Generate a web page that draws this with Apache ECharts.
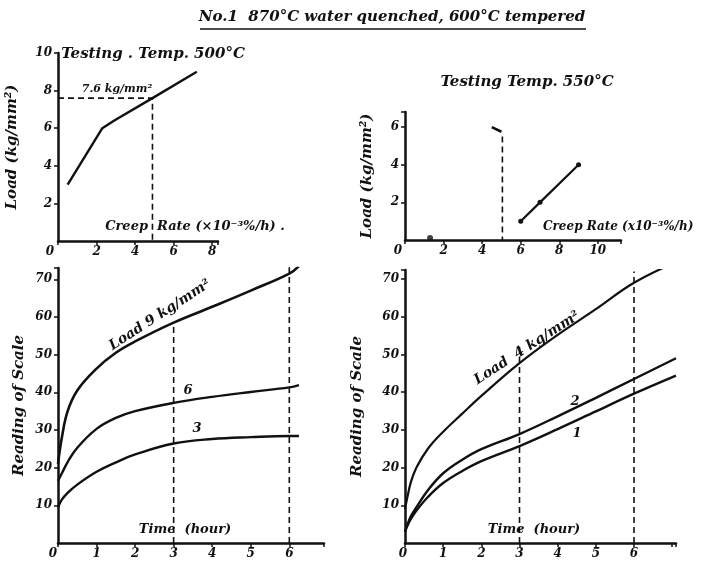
<!DOCTYPE html>
<html>
<head>
<meta charset="utf-8">
<script src="https://cdn.jsdelivr.net/npm/echarts@6/dist/echarts.min.js"></script>
<style>html,body{margin:0;padding:0;background:#fff;}#c{width:703px;height:561px;}</style>
</head>
<body>
<div id="c"></div>
<script>
// ---- Top-left: Testing Temp. 500°C (creep rate vs load)
const tlRate = [0.5, 2.3, 2.9, 4.9, 7.2];
const tlLoad = [3, 6, 6.4, 7.6, 9];
const tlGuideRate = [0, 4.9, 4.9];
const tlGuideLoad = [7.6, 7.6, 0];

// ---- Top-right: Testing Temp. 550°C
const trRate = [6, 7, 9];
const trLoad = [1, 2, 4];
const trLoad6Rate = [4.5, 5.0];
const trLoad6Load = [6.0, 5.75];
const trGuideRate = [5.05, 5.05];
const trGuideLoad = [5.5, 0];
const trDotRate = [1.3];
const trDotLoad = [0.1];

// ---- Bottom-left: reading of scale vs time (500°C)
const blTime = [0, 0.1, 0.25, 0.5, 1, 1.5, 2, 3, 4, 5, 6, 6.25];
const blLoad9 = [21, 28, 35, 40.5, 46.3, 50.5, 53.5, 58.5, 62.7, 67, 71.5, 73.5];
const blLoad6 = [16.5, 18.5, 21.5, 25.3, 30.3, 33.2, 35.0, 37.2, 38.8, 40.1, 41.3, 41.9];
const blLoad3 = [9.5, 11.5, 13.3, 15.5, 18.9, 21.4, 23.5, 26.4, 27.6, 28.1, 28.4, 28.4];
const blGuide3 = [0, 58.5];
const blGuide6 = [0, 74];

// ---- Bottom-right: reading of scale vs time (550°C)
const brTime = [0, 0.05, 0.15, 0.3, 0.6, 1, 1.5, 2, 3, 4, 5, 6, 7.1];
const brLoad4 = [9, 11.5, 16, 20, 25, 29.5, 34.3, 39, 47.7, 55.2, 62, 69, 74.5];
const brLoad2 = [3, 4.5, 7, 9.5, 14, 18.5, 22.1, 24.9, 28.9, 33.6, 38.5, 43.5, 49];
const brLoad1 = [3, 4.3, 6.3, 8.6, 12.2, 15.9, 19.1, 21.7, 25.7, 30.2, 34.9, 39.6, 44.4];
const brGuide3 = [0, 52];
const brGuide6 = [0, 72];

const pairs = (xs, ys) => xs.map((x, i) => [x, ys[i]]);
const FONT = 'DejaVu Serif';
const ink = '#111';

function xAx(gi, max, interval, lastLabel, zeroShift) {
  return {
    type: 'value', gridIndex: gi, min: 0, max: max, interval: interval,
    axisLine: { show: true, onZero: false, lineStyle: { color: ink, width: 2.5 } },
    axisTick: { show: true, length: 4, lineStyle: { color: ink, width: 1.5 } },
    splitLine: { show: false },
    axisLabel: {
      margin: 5, color: ink, fontFamily: FONT, fontStyle: 'italic', fontWeight: 'bold', fontSize: 12,
      formatter: function (v) {
        if (v === 0) return '{z|0}';
        if (v > lastLabel + 1e-6) return '';
        return Math.abs(v / interval - Math.round(v / interval)) < 1e-6 ? String(v) : '';
      },
      rich: { z: { padding: [0, zeroShift, 0, 0], color: ink, fontFamily: FONT, fontStyle: 'italic', fontWeight: 'bold', fontSize: 12 } }
    }
  };
}
function yAx(gi, max, interval, name, gap) {
  return {
    type: 'value', gridIndex: gi, min: 0, max: max, interval: interval,
    name: name, nameLocation: 'middle', nameGap: gap, nameRotate: 90,
    nameTextStyle: { color: ink, fontFamily: FONT, fontStyle: 'italic', fontWeight: 'bold', fontSize: 15 },
    axisLine: { show: true, onZero: false, lineStyle: { color: ink, width: 2.5 } },
    axisTick: { show: true, length: 4, lineStyle: { color: ink, width: 1.5 } },
    splitLine: { show: false },
    axisLabel: {
      margin: 6, color: ink, fontFamily: FONT, fontStyle: 'italic', fontWeight: 'bold', fontSize: 12,
      showMinLabel: false,
      formatter: function (v) {
        return Math.abs(v / interval - Math.round(v / interval)) < 1e-6 ? String(v) : '';
      }
    }
  };
}
function curve(gi, data, smooth, width) {
  return {
    type: 'line', xAxisIndex: gi, yAxisIndex: gi, data: data,
    smooth: smooth, showSymbol: false, symbol: 'none',
    lineStyle: { color: ink, width: width || 2.4 }, animation: false
  };
}
function dashed(gi, data) {
  return {
    type: 'line', xAxisIndex: gi, yAxisIndex: gi, data: data, symbol: 'none',
    lineStyle: { color: ink, width: 1.6, type: [6, 4] }, animation: false
  };
}
function txt(x, y, s, size, opts, align) {
  return Object.assign({
    type: 'text', x: x, y: y,
    style: { text: s, fill: ink, font: 'italic bold ' + size + 'px "' + FONT + '"', textAlign: align || 'center', textVerticalAlign: 'middle' }
  }, opts || {});
}

const chart = echarts.init(document.getElementById('c'), null, { renderer: 'canvas' });
chart.setOption({
  backgroundColor: '#fff',
  animation: false,
  grid: [
    { left: 58, top: 53, width: 160, height: 188, outerBoundsMode: 'none', containLabel: false },
    { left: 405, top: 112, width: 216, height: 128, outerBoundsMode: 'none', containLabel: false },
    { left: 58, top: 268, width: 266, height: 275, outerBoundsMode: 'none', containLabel: false },
    { left: 405, top: 270, width: 271, height: 273, outerBoundsMode: 'none', containLabel: false }
  ],
  xAxis: [
    xAx(0, 8.3, 2, 8, 16),
    xAx(1, 11.2, 2, 10, 14),
    xAx(2, 6.9, 1, 6, 10),
    xAx(3, 7.1, 1, 6, 4)
  ],
  yAxis: [
    yAx(0, 10, 2, 'Load (kg/mm²)', 38),
    yAx(1, 6.8, 2, 'Load (kg/mm²)', 30),
    yAx(2, 73, 10, 'Reading of Scale', 31),
    yAx(3, 72.4, 10, 'Reading of Scale', 40)
  ],
  series: [
    curve(0, pairs(tlRate, tlLoad), false, 2.4),
    dashed(0, pairs(tlGuideRate, tlGuideLoad)),
    Object.assign(curve(1, pairs(trRate, trLoad), false, 2.2), { showSymbol: true, symbol: 'circle', symbolSize: 5, itemStyle: { color: ink } }),
    curve(1, pairs(trLoad6Rate, trLoad6Load), false, 2.6),
    dashed(1, pairs(trGuideRate, trGuideLoad)),
    { type: 'scatter', xAxisIndex: 1, yAxisIndex: 1, data: pairs(trDotRate, trDotLoad), symbolSize: 6, itemStyle: { color: ink }, animation: false },
    curve(2, pairs(blTime, blLoad9), 0.4, 2.6),
    curve(2, pairs(blTime, blLoad6), 0.4, 2.4),
    curve(2, pairs(blTime, blLoad3), 0.4, 2.4),
    dashed(2, pairs([3, 3], blGuide3)),
    dashed(2, pairs([6, 6], blGuide6)),
    curve(3, pairs(brTime, brLoad4), 0.4, 2.2),
    curve(3, pairs(brTime, brLoad2), 0.4, 2.4),
    curve(3, pairs(brTime, brLoad1), 0.4, 2.4),
    dashed(3, pairs([3, 3], brGuide3)),
    dashed(3, pairs([6, 6], brGuide6))
  ],
  graphic: [
    txt(392, 17, 'No.1  870°C water quenched, 600°C tempered', 15),
    { type: 'line', shape: { x1: 200, y1: 29, x2: 586, y2: 29 }, style: { stroke: ink, lineWidth: 1.6 } },
    txt(153, 54, 'Testing . Temp. 500°C', 15),
    txt(527, 82, 'Testing Temp. 550°C', 15),
    txt(117, 89, '7.6 kg/mm²', 11),
    txt(195, 227, 'Creep  Rate (×10⁻³%/h) .', 13),
    txt(543, 227, 'Creep Rate (x10⁻³%/h)', 12, null, 'left'),
    txt(185, 530, 'Time  (hour)', 13),
    txt(534, 530, 'Time  (hour)', 13),
    txt(160, 315, 'Load 9 kg/mm²', 14, { rotation: 33 * Math.PI / 180 }),
    txt(188, 391, '6', 13),
    txt(197, 429, '3', 13),
    txt(527, 348, 'Load  4 kg/mm²', 14, { rotation: 33 * Math.PI / 180 }),
    txt(575, 402, '2', 13),
    txt(577, 434, '1', 13)
  ]
});
</script>
</body>
</html>
